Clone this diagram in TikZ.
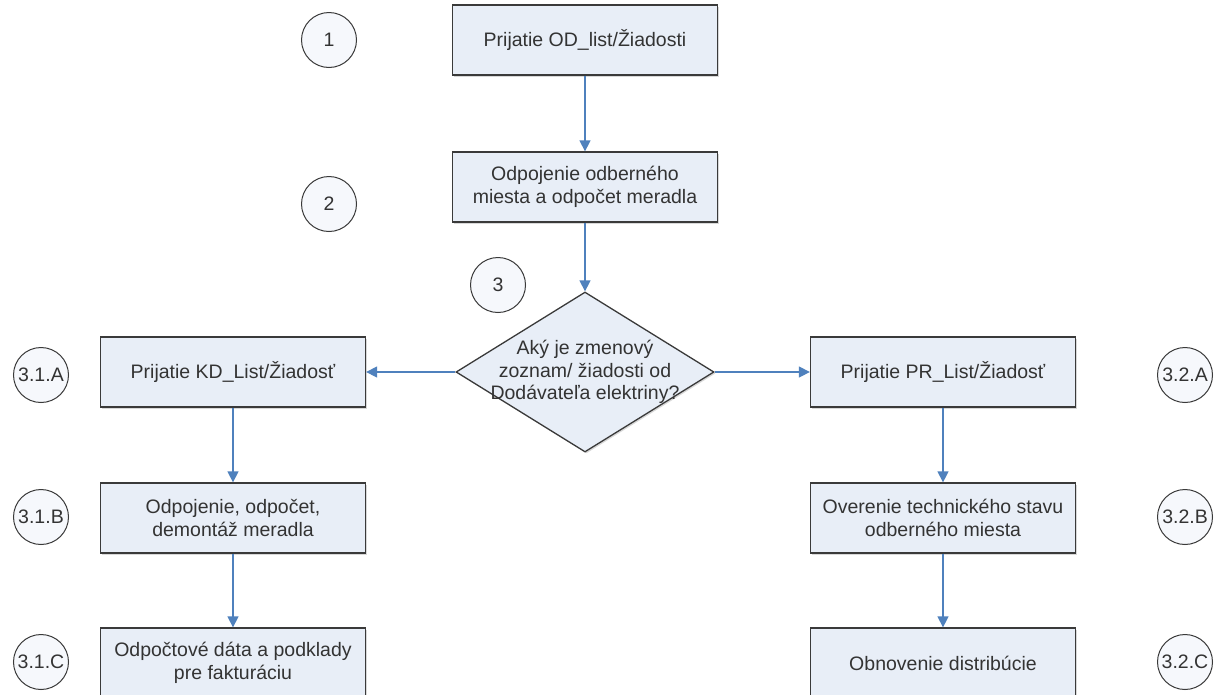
\documentclass[tikz,border=0pt]{standalone}
\usepackage{fontspec}
\setmainfont{Liberation Sans}
\usepackage{tikz}
\usetikzlibrary{shapes.geometric}
\usetikzlibrary{arrows.meta}
\usetikzlibrary{shadows}

\definecolor{boxfill}{HTML}{E8EEF7}
\definecolor{ringfill}{HTML}{F6F8FC}
\definecolor{flowblue}{HTML}{4F81BD}
\definecolor{edgegray}{HTML}{3A3A3A}
\definecolor{textgray}{HTML}{333333}

\begin{document}
\begin{tikzpicture}[x=1pt, y=-1pt,
		txt/.style={text=textgray, font=\fontsize{19.5pt}{22.5pt}\selectfont, align=center},
		krok/.style={txt, draw=edgegray, line width=1.3pt, fill=boxfill, minimum width=265pt, minimum height=70pt, inner sep=0pt,
			drop shadow={shadow xshift=1.5pt, shadow yshift=-1.5pt, fill=black!30}},
		volba/.style={diamond, draw=edgegray, line width=1.3pt, fill=boxfill, minimum width=258pt, minimum height=160pt, aspect=1.6, inner sep=0pt,
			drop shadow={shadow xshift=1.5pt, shadow yshift=-1.5pt, fill=black!30}},
		cislo/.style={txt, circle, draw=edgegray, line width=1pt, fill=ringfill, minimum size=55pt, inner sep=0pt},
		tok/.style={draw=flowblue, line width=1.3pt, -{Triangle[length=11pt, width=11pt]}}]
			\useasboundingbox[fill=white](0, 0) rectangle (1220, 694);

			\node[krok] (prijOD) at (585, 40) {Prijatie OD\_list/Žiadosti};
			\node[krok] (odpoj) at (585, 187) {Odpojenie odberného\\miesta a odpočet meradla};
			\node[volba] (zmena) at (585, 372) {};
			\node[txt] (zmenaTxt) at (585, 372) {Aký je zmenový\\zoznam/ žiadosti od\\Dodávateľa elektriny?};

			\node[krok] (prijKD) at (233, 372) {Prijatie KD\_List/Žiadosť};
			\node[krok] (demont) at (233, 518) {Odpojenie, odpočet,\\demontáž meradla};
			\node[krok] (fakt) at (233, 663) {Odpočtové dáta a podklady\\pre fakturáciu};

			\node[krok] (prijPR) at (943, 372) {Prijatie PR\_List/Žiadosť};
			\node[krok] (overen) at (943, 518) {Overenie technického stavu\\odberného miesta};
			\node[krok] (obnov) at (943, 663) {Obnovenie distribúcie};

			\node[cislo] (c1) at (329, 40) {1};
			\node[cislo] (c2) at (329, 204) {2};
			\node[cislo] (c3) at (498, 285) {3};
			\node[cislo] (c31a) at (41, 375) {3.1.A};
			\node[cislo] (c31b) at (41, 517) {3.1.B};
			\node[cislo] (c31c) at (41, 662) {3.1.C};
			\node[cislo] (c32a) at (1185, 375) {3.2.A};
			\node[cislo] (c32b) at (1185, 517) {3.2.B};
			\node[cislo] (c32c) at (1185, 662) {3.2.C};

			\draw[tok](prijOD)--(odpoj);
			\draw[tok](odpoj)--(zmena);
			\draw[tok](zmena.west)--(prijKD.east);
			\draw[tok](zmena.east)--(prijPR.west);
			\draw[tok](prijKD)--(demont);
			\draw[tok](demont)--(fakt);
			\draw[tok](prijPR)--(overen);
			\draw[tok](overen)--(obnov);
		\end{tikzpicture}
\end{document}
